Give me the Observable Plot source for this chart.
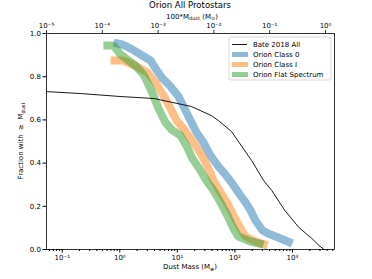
<!DOCTYPE html>
<html><head><meta charset="utf-8">
<script src="https://cdn.jsdelivr.net/npm/d3@7"></script>
<script src="https://cdn.jsdelivr.net/npm/@observablehq/plot@0.6"></script>
<style>body{margin:0;background:#fff} svg{display:block}</style>
</head><body><div id="chart"></div>
<script>
// Bate 2018 All
const bateMass = [0.0533, 0.21, 1.05, 3.95, 17.5, 39.1, 51.8, 87.3, 195, 316, 437, 735, 1290, 2170, 2880, 3520];
const bateFrac = [0.731, 0.722, 0.708, 0.699, 0.662, 0.620, 0.597, 0.546, 0.412, 0.319, 0.273, 0.181, 0.102, 0.051, 0.019, 0.0];
// Orion Class 0
const c0Mass = [0.78, 1.11, 1.53, 2.29, 3.42, 4.18, 5.52, 7.60, 10.5, 13.3, 16.9, 21.5, 28.5, 37.7, 51.9, 68.7, 87.3, 125, 153, 187, 228, 302, 416, 620, 1000];
const c0Frac = [0.958, 0.949, 0.931, 0.903, 0.875, 0.838, 0.792, 0.755, 0.708, 0.653, 0.597, 0.542, 0.495, 0.435, 0.384, 0.347, 0.310, 0.250, 0.218, 0.181, 0.134, 0.088, 0.069, 0.051, 0.028];
// Orion Class I
const c1Mass = [0.69, 1.16, 1.66, 2.29, 3.03, 4.18, 5.75, 7.6, 9.7, 12.8, 16.9, 22.4, 28.5, 34.8, 42.5, 56.2, 74.3, 94.6, 125, 153, 228, 369];
const c1Frac = [0.875, 0.875, 0.856, 0.838, 0.819, 0.773, 0.713, 0.653, 0.597, 0.560, 0.514, 0.468, 0.421, 0.375, 0.319, 0.264, 0.213, 0.157, 0.097, 0.060, 0.037, 0.019];
// Orion Flat Spectrum
const fsMass = [0.52, 0.78, 1.03, 1.42, 1.95, 2.58, 3.15, 3.85, 4.70, 6.22, 8.24, 11.3, 14.4, 18.3, 23.3, 32.1, 42.5, 56.2, 74.3, 94.6, 115, 187, 314];
const fsFrac = [0.944, 0.944, 0.903, 0.875, 0.847, 0.810, 0.764, 0.713, 0.653, 0.588, 0.551, 0.528, 0.481, 0.421, 0.380, 0.319, 0.273, 0.218, 0.157, 0.097, 0.060, 0.037, 0.023];

const seriesNames = ["Bate 2018 All", "Orion Class 0", "Orion Class I", "Orion Flat Spectrum"];
const seriesColors = ["#000000", "#1f77b4", "#ff7f0e", "#2ca02c"];

const yTicks = [0, 0.2, 0.4, 0.6, 0.8, 1.0];
const xMajor = [0.1, 1, 10, 100, 1000];
const topTicks = [1e-5, 1e-4, 1e-3, 1e-2, 1e-1, 1];
const xDomain = [0.0533, 5370];
const topDomain = [1e-5, 1.45];

const toRows = (m, f) => m.map((v, i) => ({m: v, f: f[i]}));
const bate = toRows(bateMass, bateFrac);
const c0 = toRows(c0Mass, c0Frac);
const c1 = toRows(c1Mass, c1Frac);
const fs = toRows(fsMass, fsFrac);

const L = Math.log10;
const toBottom = t => Math.pow(10, L(xDomain[0]) + (L(t) - L(topDomain[0])) / (L(topDomain[1]) - L(topDomain[0])) * (L(xDomain[1]) - L(xDomain[0])));
const supMap = {"0":"⁰","1":"¹","2":"²","3":"³","4":"⁴","5":"⁵","6":"⁶","7":"⁷","8":"⁸","9":"⁹","-":"⁻"};
const pow10 = e => "10" + String(e).split("").map(c => supMap[c]).join("");

const xMinor = [];
for (let e = -2; e <= 3; e++) for (let k = 2; k <= 9; k++) {
  const v = k * Math.pow(10, e);
  if (v >= xDomain[0] && v <= xDomain[1]) xMinor.push(v);
}
const topRows = topTicks.map(t => ({x: toBottom(t) * 1.0000001, label: pow10(Math.round(L(t)))}));

const band = (data, color) => Plot.line(data, {x: "m", y: "f", stroke: color, strokeWidth: 8, strokeOpacity: 0.5, strokeLinecap: "butt", strokeLinejoin: "miter"});

const plot = Plot.plot({
  width: 372, height: 279,
  marginLeft: 46, marginRight: 38, marginTop: 33, marginBottom: 30,
  style: {fontFamily: "DejaVu Sans", fontSize: "7px", color: "#000", background: "#fff"},
  x: {type: "log", domain: xDomain},
  y: {domain: [0, 1]},
  marks: [
    band(c0, seriesColors[1]),
    band(c1, seriesColors[2]),
    band(fs, seriesColors[3]),
    Plot.line(bate, {x: "m", y: "f", stroke: "#000", strokeWidth: 0.9}),
    Plot.frame({stroke: "#000", strokeWidth: 0.8}),
    Plot.axisY({ticks: yTicks, tickFormat: d => d.toFixed(1), tickSize: 3.5, tickPadding: 2, label: null}),
    Plot.axisX({ticks: xMajor, tickFormat: d => pow10(Math.round(L(d))), tickSize: 3.5, tickPadding: 2, label: null}),
    Plot.axisX({ticks: xMinor, tickFormat: () => "", tickSize: 2, label: null}),
    // top secondary axis (100*M_dust in Msun)
    Plot.link(topRows, {x1: "x", x2: "x", y1: 1, y2: 1.0162, stroke: "#000", strokeWidth: 0.8}),
    Plot.text(topRows, {x: "x", frameAnchor: "top", dy: -6, lineAnchor: "bottom", text: "label"})
  ]
});

const svg = d3.select(plot);
const ff = "DejaVu Sans";
// Title
svg.append("text").attr("x", 190).attr("y", 8).attr("text-anchor", "middle")
  .attr("font-family", ff).attr("font-size", 8.5).text("Orion All Protostars");
// Top axis label
const tl = svg.append("text").attr("x", 192).attr("y", 18.5).attr("text-anchor", "middle")
  .attr("font-family", ff).attr("font-size", 7);
tl.append("tspan").text("100*M");
tl.append("tspan").attr("font-size", 5).attr("dy", 1.5).text("dust");
tl.append("tspan").attr("dy", -1.5).text(" (M");
tl.append("tspan").attr("font-size", 5).attr("dy", 1.5).text("⊙");
tl.append("tspan").attr("dy", -1.5).text(")");
// Bottom axis label
const bl = svg.append("text").attr("x", 190).attr("y", 269).attr("text-anchor", "middle")
  .attr("font-family", ff).attr("font-size", 7);
bl.append("tspan").text("Dust Mass (M");
bl.append("tspan").attr("font-size", 5).attr("dy", 1.5).text("⊕");
bl.append("tspan").attr("dy", -1.5).text(")");
// Y axis label
const yl = svg.append("text").attr("transform", "translate(23,141) rotate(-90)").attr("text-anchor", "middle")
  .attr("font-family", ff).attr("font-size", 7);
yl.append("tspan").text("Fraction with  ≥  M");
yl.append("tspan").attr("font-size", 5).attr("dy", 1.5).text("dust");
// Legend
const lg = svg.append("g").attr("font-family", ff).attr("font-size", 7).attr("text-anchor", "start");
lg.append("rect").attr("x", 229).attr("y", 37).attr("width", 102).attr("height", 43)
  .attr("rx", 2).attr("fill", "#fff").attr("fill-opacity", 0.8).attr("stroke", "#cccccc").attr("stroke-width", 0.8);
seriesNames.forEach((name, i) => {
  const cy = 44.5 + i * 10;
  if (i === 0) {
    lg.append("line").attr("x1", 232).attr("x2", 247).attr("y1", cy).attr("y2", cy).attr("stroke", "#000").attr("stroke-width", 0.9);
  } else {
    lg.append("rect").attr("x", 232).attr("y", cy - 2.5).attr("width", 16).attr("height", 5)
      .attr("fill", seriesColors[i]).attr("fill-opacity", 0.5);
  }
  lg.append("text").attr("x", 253).attr("y", cy + 2.5).attr("text-anchor", "start").text(name);
});
document.getElementById("chart").appendChild(plot);
</script>
</body></html>
